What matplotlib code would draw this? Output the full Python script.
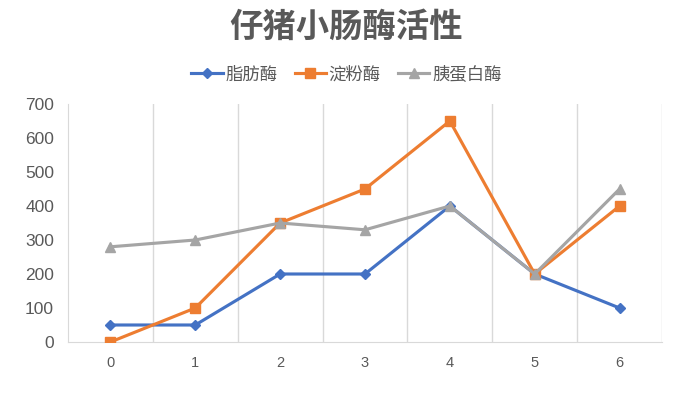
import matplotlib
matplotlib.use("Agg")
import matplotlib.pyplot as plt

plt.rcParams['font.family'] = ['Liberation Sans', 'Noto Sans CJK SC', 'DejaVu Sans']

categories = [0, 1, 2, 3, 4, 5, 6]
lipase = [50, 50, 200, 200, 400, 200, 100]
amylase = [0, 100, 350, 450, 650, 200, 400]
trypsin = [280, 300, 350, 330, 400, 200, 450]
series_names = ['脂肪酶', '淀粉酶', '胰蛋白酶']
yticks = [0, 100, 200, 300, 400, 500, 600, 700]

fig = plt.figure(figsize=(6.93, 3.94), dpi=100)
ax = fig.add_axes([68/693, 52/394, 594/693, 238/394])

ax.plot(categories, lipase, color='#4472C4', lw=2.25, marker='D', ms=5, label=series_names[0], zorder=3)
ax.plot(categories, amylase, color='#ED7D31', lw=2.25, marker='s', ms=6.5, label=series_names[1], zorder=4)
ax.plot(categories, trypsin, color='#A5A5A5', lw=2.25, marker='^', ms=7, label=series_names[2], zorder=5)

ax.set_xlim(-0.5, 6.5)
ax.set_ylim(0, 700)
ax.set_yticks(yticks)
ax.set_xticks(categories)
ax.set_xticklabels([str(c) for c in categories])
for x in [i + 0.5 for i in range(7)]:
    ax.axvline(x, color='#D9D9D9', lw=1, zorder=1)
for s in ['top', 'right']:
    ax.spines[s].set_visible(False)
ax.spines['left'].set_color('#D9D9D9')
ax.spines['bottom'].set_color('#D9D9D9')
ax.tick_params(axis='both', length=0, colors='#595959')
ax.tick_params(axis='y', labelsize=12.5, pad=10)
ax.tick_params(axis='x', labelsize=10.5, pad=10)

fig.text(0.5, 1 - 28/394, '仔猪小肠酶活性', ha='center', va='center', fontsize=24,
         fontweight='bold', color='#595959')
leg = fig.legend(loc='center', bbox_to_anchor=(0.5, 1 - 74/394), ncol=3, frameon=False,
                 fontsize=12.5, handlelength=1.8, columnspacing=1.0, handletextpad=0.15)
for t in leg.get_texts():
    t.set_color('#595959')

fig.savefig('out.png', dpi=100)
